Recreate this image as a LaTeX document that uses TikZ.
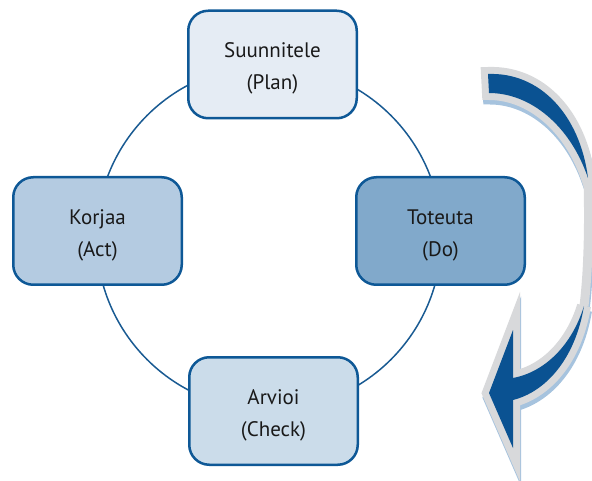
\documentclass[tikz,border=0pt]{standalone}
\usepackage{fontspec}
\setmainfont{PT Sans}
\definecolor{planfill}{HTML}{E5ECF4}
\definecolor{actfill}{HTML}{B4CBE1}
\definecolor{dofill}{HTML}{81A9CB}
\definecolor{checkfill}{HTML}{CBDCEA}
\definecolor{boxborder}{HTML}{0E5896}
\definecolor{ringcol}{HTML}{195A92}
\definecolor{arrowblue}{HTML}{0A5292}
\definecolor{arrowgray}{HTML}{D8D9DB}
\definecolor{arrowshadow}{HTML}{A6C3DE}
\tikzset{
  stagebox/.style={draw=boxborder, line width=2.5pt, rounded corners=20pt,
    minimum width=168.5pt, minimum height=107.5pt, inner sep=0pt},
  stagetext/.style={align=center, font=\fontsize{21}{32}\selectfont,
    text=black!90, inner sep=0pt, yshift=-4pt},
  ring/.style={draw=ringcol, line width=1.5pt},
}
\newcommand{\toppiece}{(488,74) .. controls (540,72) and (580,115) .. (588,178) .. controls (570,125) and (530,93) .. (489,93) -- cycle}
\newcommand{\botpiece}{(584,306) .. controls (572,345) and (545,372) .. (513,378) -- (513,330) -- (489,393) -- (513,448) -- (513,400) .. controls (545,392) and (575,360) .. (584,306) -- cycle}
\newcommand{\midstrip}{(588,178) .. controls (589,215) and (589,265) .. (584,306)}
\begin{document}
\begin{tikzpicture}[x=1pt,y=-1pt]
\useasboundingbox (0,0) rectangle (592,481);
% ring
\coordinate (ringc) at (269,237.5);
\draw[ring] (ringc) circle[radius=172.5];
% curved arrow: shadow
\begin{scope}[shift={(1,4.5)}]
  \filldraw[arrowshadow, line width=14pt, line join=miter, miter limit=10] \toppiece;
  \filldraw[arrowshadow, line width=14pt, line join=miter, miter limit=10] \botpiece;
  \draw[arrowshadow, line width=9pt] \midstrip;
\end{scope}
% gray outline
\draw[arrowgray, line width=14pt, line join=miter, miter limit=10] \toppiece;
\draw[arrowgray, line width=14pt, line join=miter, miter limit=10] \botpiece;
\draw[arrowgray, line width=9pt] \midstrip;
% blue body
\fill[arrowblue] \toppiece;
\fill[arrowblue] \botpiece;
% stages
\node[stagebox, fill=planfill, label={[stagetext]center:Suunnitele\\(Plan)}] (plan) at (272.5,64.5) {};
\node[stagebox, fill=actfill, label={[stagetext]center:Korjaa\\(Act)}] (act) at (97.5,231) {};
\node[stagebox, fill=dofill, label={[stagetext]center:Toteuta\\(Do)}] (do) at (440.5,231) {};
\node[stagebox, fill=checkfill, label={[stagetext]center:Arvioi\\(Check)}] (check) at (273.5,411) {};
\end{tikzpicture}
\end{document}
